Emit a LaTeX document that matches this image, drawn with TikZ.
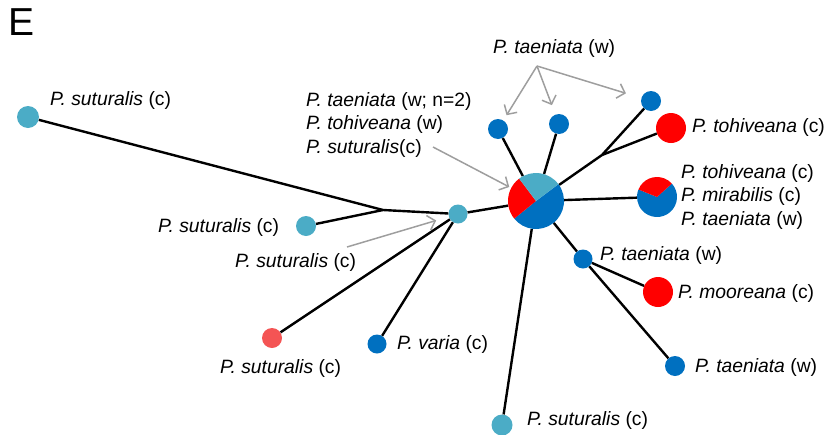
\documentclass[tikz,border=0pt]{standalone}
\usepackage{fontspec}
\setmainfont{Liberation Sans}
\usetikzlibrary{arrows.meta}
\definecolor{dblue}{HTML}{0070C0}
\definecolor{lblue}{HTML}{4BACC6}
\definecolor{pred}{HTML}{FF0000}
\definecolor{lred}{HTML}{F45454}
\definecolor{arrgray}{HTML}{9E9E9E}

\begin{document}
\begin{tikzpicture}[x=1pt,y=-1pt,
  hap/.style={circle, inner sep=0pt, minimum size=#1},
  edge/.style={line width=2.4pt, black},
  ptr/.style={draw=arrgray, line width=1.5pt, -{Straight Barb[length=7pt,width=15pt]}},
  lab/.style={anchor=west, inner sep=0pt, font=\fontsize{19.3}{23.5}\selectfont},
]
\useasboundingbox (0,0) rectangle (832,434);

% panel letter
\node[anchor=center, inner sep=0pt, font=\fontsize{39}{39}\selectfont] (E) at (22,22) {E};

% haplotype nodes
\node[hap=56] (hub) at (536,201) {};
\node[hap=40] (rpie) at (657,197) {};
\node[hap=22, fill=lblue] (s1) at (28,117) {};
\node[hap=20, fill=lblue] (s2) at (306,226) {};
\node[hap=19, fill=lblue] (s3) at (458,214) {};
\node[hap=20, fill=lred] (s4) at (272,338) {};
\node[hap=19, fill=dblue] (va) at (377,344) {};
\node[hap=21, fill=lblue] (s5) at (502,425) {};
\node[hap=20, fill=dblue] (t1) at (498,129) {};
\node[hap=20, fill=dblue] (t2) at (559,124) {};
\node[hap=20, fill=dblue] (t3) at (651,101) {};
\node[hap=30, fill=pred] (to) at (671,128) {};
\node[hap=19, fill=dblue] (t4) at (583,259) {};
\node[hap=30, fill=pred] (mo) at (658,292) {};
\node[hap=20, fill=dblue] (t5) at (675,366) {};

% branch points
\coordinate (jl) at (383,210);
\coordinate (jr) at (602,155);

% connectors
\begin{scope}[edge]
  \draw (s1) -- (jl);
  \draw (s2) -- (jl);
  \draw (jl) -- (s3);
  \draw (s3) -- (hub);
  \draw (s3) -- (s4);
  \draw (s3) -- (va);
  \draw (hub) -- (s5);
  \draw (hub) -- (t1);
  \draw (hub) -- (t2);
  \draw (hub) -- (jr);
  \draw (jr) -- (t3);
  \draw (jr) -- (to);
  \draw (hub) -- (rpie);
  \draw (hub) -- (t4);
  \draw (t4) -- (mo);
  \draw (t4) -- (t5);
\end{scope}

% central pie: 2 taeniata (w), 1 tohiveana (w), 1 suturalis (c)
\fill[dblue] (hub.center) -- ++(-37:28) arc[start angle=-37, end angle=141, radius=28] -- cycle;
\fill[pred] (hub.center) -- ++(141:28) arc[start angle=141, end angle=233, radius=28] -- cycle;
\fill[lblue] (hub.center) -- ++(-127:28) arc[start angle=-127, end angle=-37, radius=28] -- cycle;

% right pie: tohiveana, mirabilis, taeniata
\fill[dblue] (rpie.center) -- ++(-42:20) arc[start angle=-42, end angle=202, radius=20] -- cycle;
\fill[pred] (rpie.center) -- ++(-158:20) arc[start angle=-158, end angle=-42, radius=20] -- cycle;

% labels
\node[lab] (l1) at (50,101) {\textit{P. suturalis} (c)};
\node[lab] (l2) at (158,228) {\textit{P. suturalis} (c)};
\node[lab] (l3) at (235,262) {\textit{P. suturalis} (c)};
\node[lab] (l4) at (220,368) {\textit{P. suturalis} (c)};
\node[lab] (l5) at (397,344) {\textit{P. varia} (c)};
\node[lab] (l6) at (527,420) {\textit{P. suturalis} (c)};
\node[lab] (l7) at (600,256) {\textit{P. taeniata} (w)};
\node[lab] (l8) at (678,294) {\textit{P. mooreana} (c)};
\node[lab] (l9) at (695,367) {\textit{P. taeniata} (w)};
\node[lab] (l10) at (692,128) {\textit{P. tohiveana} (c)};
\node[lab, align=left] (l11) at (681,197) {\textit{P. tohiveana} (c)\\\textit{P. mirabilis} (c)\\\textit{P. taeniata} (w)};
\node[lab, align=left] (l12) at (306,125) {\textit{P. taeniata} (w; n=2)\\\textit{P. tohiveana} (w)\\\textit{P. suturalis}(c)};
\node[lab] (l13) at (493,49) {\textit{P. taeniata} (w)};

% pointer arrows
\coordinate (tw) at (537,66);
\coordinate (gs) at (433,147);
\coordinate (ss) at (347,247);
\draw[ptr, shorten >=6pt] (tw) -- (t1);
\draw[ptr, shorten >=10pt] (tw) -- (t2);
\draw[ptr, shorten >=16pt] (tw) -- (t3);
\draw[ptr, shorten >=2pt] (gs) -- (hub);
\draw[ptr, shorten >=13pt] (ss) -- (s3);
\end{tikzpicture}
\end{document}
